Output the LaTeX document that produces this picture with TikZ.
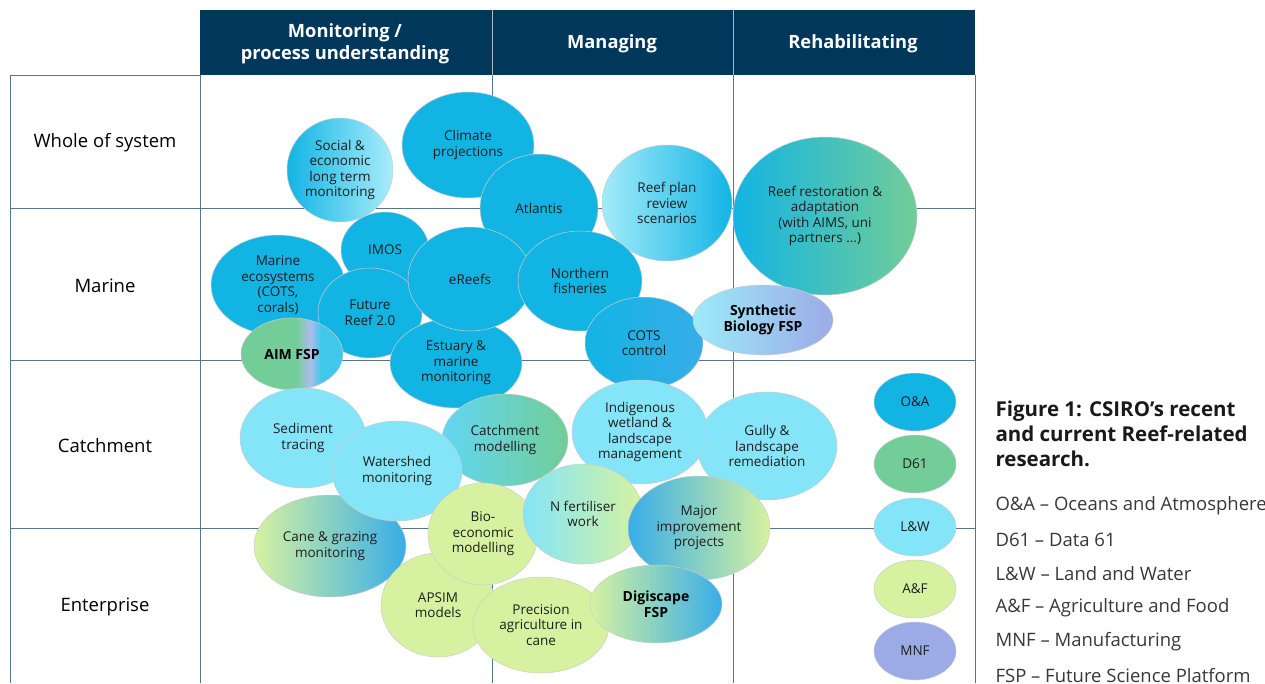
\documentclass[tikz,border=0pt]{standalone}
\usepackage{fontspec}
\setmainfont{Open Sans}
\usetikzlibrary{shapes.geometric}
\definecolor{navy}{HTML}{00375A}
\definecolor{gridc}{HTML}{56758C}
\definecolor{oanda}{HTML}{12B4E4}
\definecolor{dsix}{HTML}{72CD98}
\definecolor{lnw}{HTML}{84E5F8}
\definecolor{anf}{HTML}{D6F2A0}
\definecolor{mnf}{HTML}{9CABE6}
\definecolor{majblue}{HTML}{38ADE8}
\definecolor{txt}{HTML}{1E1E1E}
\pgfdeclarehorizontalshading{aimshade}{100bp}{color(0bp)=(dsix); color(52bp)=(dsix); color(59bp)=(mnf!80!white); color(64bp)=(oanda!60!lnw); color(100bp)=(oanda!60!lnw)}

\begin{document}
\begin{tikzpicture}[x=1pt, y=-1pt,
    grid/.style={draw=gridc, line width=0.8pt},
    bub/.style={ellipse, draw=black!20, line width=0.5pt, inner sep=0pt, align=center, text=txt, font=\fontsize{13.5}{15.5}\selectfont},
    fsp/.style={bub, text=black, font=\fontsize{14}{15.5}\selectfont\bfseries},
    sz/.style 2 args={minimum width=#1pt, minimum height=#2pt},
    rowlab/.style={text=black, font=\fontsize{18.5}{20}\selectfont},
    head/.style={text=white, align=center, font=\fontsize{18.3}{22}\selectfont\bfseries},
    keybub/.style={bub, sz={82}{58}, font=\fontsize{13.5}{15}\selectfont},
    keytxt/.style={anchor=west, text=black!78, font=\fontsize{18.5}{22}\selectfont}]
    \useasboundingbox (0,0) rectangle (1265,683);

    \fill[navy] (200,10) rectangle (975,75);
    \draw[gridc!50!white] (492,10) -- (492,75) (733,10) -- (733,75);
    \node[head] (hmon) at (345,44) {Monitoring /\\process understanding};
    \node[head] (hman) at (612,44) {Managing};
    \node[head] (hreh) at (853,44) {Rehabilitating};

    \draw[grid] (10,75) -- (200,75);
    \draw[grid] (10,75) -- (10,683) (200,75) -- (200,683) (492,75) -- (492,683) (733,75) -- (733,683) (975,75) -- (975,683);
    \draw[grid] (10,208) -- (975,208) (10,360) -- (975,360) (10,528) -- (975,528);

    \node[rowlab] (rwhole) at (105,143) {Whole of system};
    \node[rowlab] (rmarine) at (105,286) {Marine};
    \node[rowlab] (rcatch) at (105,446) {Catchment};
    \node[rowlab] (rent) at (105,607) {Enterprise};

    \node[bub, sz={132}{106}, fill=oanda] (climate) at (468,145) {Climate\\projections};
    \node[bub, sz={106}{104}, left color=oanda, right color=lnw!70!white] (social) at (340,170) {Social \&\\economic\\long term\\monitoring};
    \node[bub, sz={118}{108}, fill=oanda] (atlantis) at (539,208) {Atlantis};
    \node[bub, sz={130}{116}, left color=lnw!75!white, right color=oanda] (reefplan) at (667,203) {Reef plan\\review\\scenarios};
    \node[bub, sz={184}{158}, left color=oanda, middle color=lnw, right color=dsix] (restore) at (825,216) {Reef restoration \&\\adaptation\\(with AIMS, uni\\partners ...)};

    \node[bub, sz={134}{100}, fill=oanda] (marineeco) at (278,285) {Marine\\ecosystems\\(COTS,\\corals)};
    \node[bub, sz={88}{76}, fill=oanda] (imos) at (385,250) {IMOS};
    \node[bub, sz={104}{90}, fill=oanda] (futreef) at (370,313) {Future\\Reef 2.0};
    \node[bub, sz={132}{90}, fill=oanda] (estuary) at (456,363) {Estuary \&\\marine\\monitoring};
    \node[bub, sz={124}{104}, fill=oanda] (ereefs) at (470,279) {eReefs};
    \node[bub, sz={124}{100}, fill=oanda] (northfish) at (580,281) {Northern\\fisheries};
    \node[bub, sz={118}{92}, left color=oanda, right color=majblue] (cots) at (644,343) {COTS\\control};
    \node[fsp, sz={102}{72}, shading=aimshade] (aimfsp) at (292,354) {AIM FSP};
    \node[fsp, sz={140}{70}, left color=lnw!80!white, right color=mnf] (synbio) at (763,320) {Synthetic\\Biology FSP};

    \node[bub, sz={126}{100}, fill=lnw] (sediment) at (303,438) {Sediment\\tracing};
    \node[bub, sz={126}{92}, left color=lnw!70!oanda, right color=dsix] (catchmod) at (505,440) {Catchment\\modelling};
    \node[bub, sz={152}{102}, left color=anf, right color=majblue] (cane) at (330,546) {Cane \& grazing\\monitoring};
    \node[bub, sz={130}{100}, fill=lnw] (watershed) at (397,471) {Watershed\\monitoring};
    \node[bub, sz={140}{108}, fill=lnw] (gully) at (767,446) {Gully \&\\landscape\\remediation};
    \node[bub, sz={136}{104}, fill=lnw] (indig) at (640,432) {Indigenous\\wetland \&\\landscape\\management};
    \node[bub, sz={114}{104}, fill=anf] (apsim) at (438,605) {APSIM\\models};
    \node[bub, sz={110}{102}, fill=anf] (bioecon) at (483,534) {Bio-\\economic\\modelling};
    \node[bub, sz={120}{100}, left color=lnw, right color=anf] (nfert) at (583,514) {N fertiliser\\work};
    \node[bub, sz={142}{104}, left color=majblue, right color=anf] (major) at (699,528) {Major\\improvement\\projects};
    \node[bub, sz={136}{96}, fill=anf] (precision) at (541,625) {Precision\\agriculture in\\cane};
    \node[fsp, sz={132}{78}, left color=anf, right color=majblue] (digiscape) at (656,604) {Digiscape\\FSP};

    \node[keybub, fill=oanda] (koa) at (915,402) {O\&A};
    \node[keybub, fill=dsix] (kdsix) at (915,464) {D61};
    \node[keybub, fill=lnw] (klw) at (915,527) {L\&W};
    \node[keybub, fill=anf] (kaf) at (915,589) {A\&F};
    \node[keybub, fill=mnf] (kmnf) at (915,651) {MNF};

    \node[anchor=base west, align=left, text=black!90, font=\fontsize{20.5}{25}\selectfont\bfseries] (caption) at (992,466) {Figure 1: CSIRO’s recent\\and current Reef-related\\research.};
    \node[keytxt] (toa) at (992,506) {O\&A – Oceans and Atmosphere};
    \node[keytxt] (tdsix) at (992,540) {D61 – Data 61};
    \node[keytxt] (tlw) at (992,574) {L\&W – Land and Water};
    \node[keytxt] (taf) at (992,608) {A\&F – Agriculture and Food};
    \node[keytxt] (tmnf) at (992,642) {MNF – Manufacturing};
    \node[keytxt] (tfsp) at (992,676) {FSP – Future Science Platform};
\end{tikzpicture}
\end{document}
